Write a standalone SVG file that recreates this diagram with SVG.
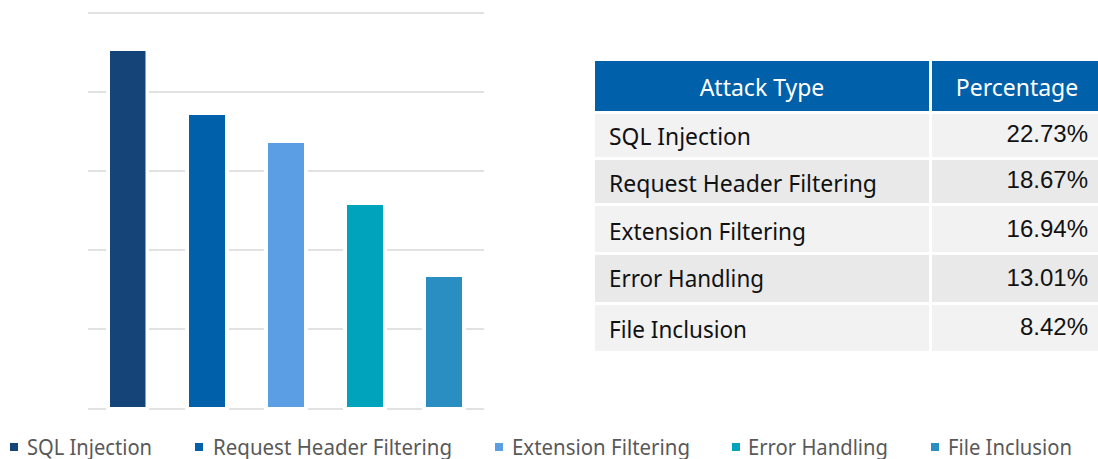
<svg xmlns="http://www.w3.org/2000/svg" width="1098" height="459" viewBox="0 0 1098 459">
<style>
.grid{stroke:#D9D9D9;stroke-width:1.6;fill:none}
.gap{fill:#FFFFFF}
.hdr{fill:#0060AA}
.rowL{fill:#F2F2F2}
.rowD{fill:#E9E9E9}
.htxt{font-family:"Noto Sans","Open Sans",sans-serif;font-size:23px;fill:#FFFFFF;text-anchor:middle}
.ltxt{font-family:"Noto Sans","Open Sans",sans-serif;font-size:23px;fill:#111111}
.ptxt{font-family:"Liberation Sans",Arial,sans-serif;font-size:24px;fill:#111111;text-anchor:end}
.lg{font-family:"Noto Sans","Open Sans",sans-serif;font-size:21px;fill:#595959}
</style>
<rect width="1098" height="459" fill="#FFFFFF"/>
<g id="chart">
<g id="gridlines">
<line class="grid" x1="88" y1="13" x2="484" y2="13"/>
<line class="grid" x1="88" y1="92" x2="484" y2="92"/>
<line class="grid" x1="88" y1="171" x2="484" y2="171"/>
<line class="grid" x1="88" y1="250" x2="484" y2="250"/>
<line class="grid" x1="88" y1="329" x2="484" y2="329"/>
<line class="grid" x1="88" y1="409" x2="484" y2="409"/>
</g>
<g id="gaps">
<rect class="gap" x="106" y="40" width="43" height="372"/>
<rect class="gap" x="185" y="100" width="44" height="312"/>
<rect class="gap" x="264" y="130" width="44" height="282"/>
<rect class="gap" x="343" y="190" width="44" height="222"/>
<rect class="gap" x="422" y="265" width="44" height="147"/>
</g>
<g id="bar-sql"><rect x="110" y="51" width="35.5" height="356" fill="#154578"/></g>
<g id="bar-request"><rect x="189" y="115" width="36" height="292" fill="#0060AA"/></g>
<g id="bar-extension"><rect x="268" y="143" width="36" height="264" fill="#5B9EE3"/></g>
<g id="bar-error"><rect x="347" y="205" width="36" height="202" fill="#00A3BC"/></g>
<g id="bar-file"><rect x="426" y="277" width="36" height="130" fill="#2A8EC3"/></g>
</g>
<g id="table">
<g id="header">
<rect class="hdr" x="595" y="61" width="334" height="50"/>
<rect class="hdr" x="932" y="61" width="166" height="50"/>
<text class="htxt" x="762" y="96">Attack Type</text>
<text class="htxt" x="1017" y="96">Percentage</text>
</g>
<g id="row-sql">
<rect class="rowL" x="595" y="114" width="334" height="43"/>
<rect class="rowL" x="932" y="114" width="166" height="43"/>
<text class="ltxt" x="609" y="145" textLength="142" lengthAdjust="spacingAndGlyphs">SQL Injection</text>
<text class="ptxt" x="1088" y="142">22.73%</text>
</g>
<g id="row-request">
<rect class="rowD" x="595" y="160" width="334" height="43"/>
<rect class="rowD" x="932" y="160" width="166" height="43"/>
<text class="ltxt" x="609" y="192" textLength="268" lengthAdjust="spacingAndGlyphs">Request Header Filtering</text>
<text class="ptxt" x="1088" y="188">18.67%</text>
</g>
<g id="row-extension">
<rect class="rowL" x="595" y="206" width="334" height="46"/>
<rect class="rowL" x="932" y="206" width="166" height="46"/>
<text class="ltxt" x="609" y="240" textLength="197" lengthAdjust="spacingAndGlyphs">Extension Filtering</text>
<text class="ptxt" x="1088" y="237">16.94%</text>
</g>
<g id="row-error">
<rect class="rowD" x="595" y="255" width="334" height="47"/>
<rect class="rowD" x="932" y="255" width="166" height="47"/>
<text class="ltxt" x="609" y="287" textLength="155" lengthAdjust="spacingAndGlyphs">Error Handling</text>
<text class="ptxt" x="1088" y="286">13.01%</text>
</g>
<g id="row-file">
<rect class="rowL" x="595" y="305" width="334" height="46"/>
<rect class="rowL" x="932" y="305" width="166" height="46"/>
<text class="ltxt" x="609" y="338" textLength="138" lengthAdjust="spacingAndGlyphs">File Inclusion</text>
<text class="ptxt" x="1088" y="335">8.42%</text>
</g>
</g>
<g id="legend">
<rect x="10" y="443" width="8" height="8" fill="#154578"/>
<text class="lg" x="27" y="455" textLength="125" lengthAdjust="spacingAndGlyphs">SQL Injection</text>
<rect x="195" y="443" width="8" height="8" fill="#0060AA"/>
<text class="lg" x="213" y="455" textLength="239" lengthAdjust="spacingAndGlyphs">Request Header Filtering</text>
<rect x="495" y="443" width="8" height="8" fill="#5B9EE3"/>
<text class="lg" x="512" y="455" textLength="178" lengthAdjust="spacingAndGlyphs">Extension Filtering</text>
<rect x="732" y="443" width="8" height="8" fill="#00A3BC"/>
<text class="lg" x="748" y="455" textLength="140" lengthAdjust="spacingAndGlyphs">Error Handling</text>
<rect x="931" y="443" width="8" height="8" fill="#2A8EC3"/>
<text class="lg" x="948" y="455" textLength="124" lengthAdjust="spacingAndGlyphs">File Inclusion</text>
</g>
</svg>
